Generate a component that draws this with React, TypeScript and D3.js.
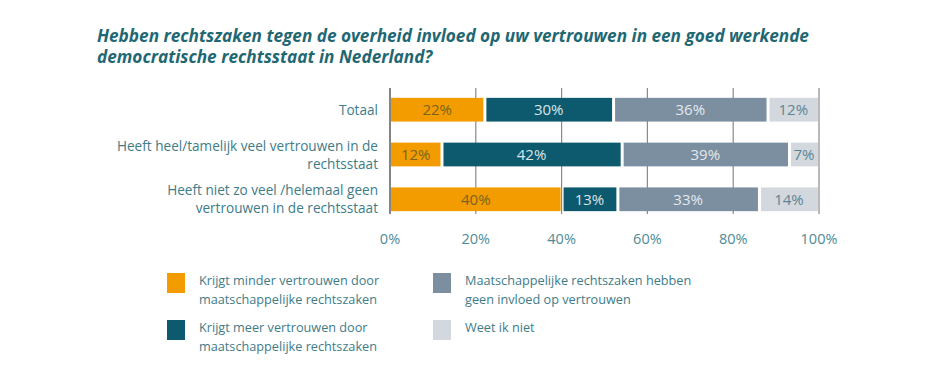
import React from "react";
import * as d3 from "d3";

const categories = [
  ["Totaal"],
  ["Heeft heel/tamelijk veel vertrouwen in de", "rechtsstaat"],
  ["Heeft niet zo veel /helemaal geen", "vertrouwen in de rechtsstaat"],
];
const seriesNames = [
  "Krijgt minder vertrouwen door maatschappelijke rechtszaken",
  "Krijgt meer vertrouwen door maatschappelijke rechtszaken",
  "Maatschappelijke rechtszaken hebben geen invloed op vertrouwen",
  "Weet ik niet",
];
const minder = [22, 12, 40];
const meer = [30, 42, 13];
const geenInvloed = [36, 39, 33];
const weetNiet = [12, 7, 14];
const ticks = [0, 20, 40, 60, 80, 100];

const legendLines = [
  ["Krijgt minder vertrouwen door", "maatschappelijke rechtszaken"],
  ["Krijgt meer vertrouwen door", "maatschappelijke rechtszaken"],
  ["Maatschappelijke rechtszaken hebben", "geen invloed op vertrouwen"],
  ["Weet ik niet"],
];

const colors = ["#F39C00", "#0D5A6E", "#7B8FA0", "#D3D8DF"];
const textColors = ["#7A6420", "#DCE4E8", "#E4E9ED", "#5B8494"];
const FONT = "'Open Sans', sans-serif";

export default function App() {
  const series = [minder, meer, geenInvloed, weetNiet];
  const x = d3.scaleLinear().domain([0, 100]).range([390, 819]);
  const y = d3.scaleBand().domain(["0", "1", "2"]).range([88, 221]).paddingInner(0.47).paddingOuter(0.22);
  const stacked = categories.map((_, i) => {
    let acc = 0;
    return series.map((s, k) => {
      const x0 = acc;
      acc += s[i];
      return { k, x0, x1: acc, v: s[i] };
    });
  });
  const legendPos = [
    { x: 167, y: 273 },
    { x: 167, y: 320 },
    { x: 433, y: 273 },
    { x: 433, y: 320 },
  ];
  return (
    <svg width={950} height={380} style={{ display: "block", position: "absolute", left: 0, top: 0 }}>
      <rect width={950} height={380} fill="#fff" />
      <g fontFamily={FONT} fontWeight={700} fontStyle="italic" fill="#1F6873" fontSize={17.2}>
        <text x={97} y={42}>Hebben rechtszaken tegen de overheid invloed op uw vertrouwen in een goed werkende</text>
        <text x={97} y={63}>democratische rechtsstaat in Nederland?</text>
      </g>
      {ticks.map((t) => (
        <g key={t}>
          <line x1={x(t)} x2={x(t)} y1={88} y2={214} stroke={t === 0 ? "#666" : "#8a8a8a"} strokeWidth={t === 0 ? 1.6 : 1.2} />
          <text x={x(t)} y={244} textAnchor="middle" fontFamily={FONT} fontSize={14.5} fill="#4F8B96">
            {t}%
          </text>
        </g>
      ))}
      {stacked.map((row, i) => {
        const by = y(String(i))!;
        const bh = y.bandwidth();
        return (
          <g key={i}>
            {row.map((seg) => (
              <g key={seg.k}>
                <rect
                  x={x(seg.x0) + (seg.k === 0 ? 1 : 2)}
                  y={by}
                  width={x(seg.x1) - x(seg.x0) - (seg.k === 0 ? 1 : 2) - 1}
                  height={bh}
                  fill={colors[seg.k]}
                />
                <text
                  x={(x(seg.x0) + x(seg.x1)) / 2}
                  y={by + bh / 2 + 5.5}
                  textAnchor="middle"
                  fontFamily={FONT}
                  fontSize={15}
                  fill={textColors[seg.k]}
                >
                  {seg.v}%
                </text>
              </g>
            ))}
            {categories[i].map((line, j) => (
              <text
                key={j}
                x={378}
                y={by + bh / 2 + 5 + (categories[i].length === 1 ? 0 : j === 0 ? -9 : 9)}
                textAnchor="end"
                fontFamily={FONT}
                fontSize={13.6}
                fill="#3E7C88"
              >
                {line}
              </text>
            ))}
          </g>
        );
      })}
      {legendPos.map((p, k) => (
        <g key={k}>
          <rect x={p.x} y={p.y} width={18} height={20} fill={colors[k]}>
            <title>{seriesNames[k]}</title>
          </rect>
          {legendLines[k].map((l, j) => (
            <text key={j} x={p.x + 32} y={p.y + 12 + j * 19} fontFamily={FONT} fontSize={12.7} fill="#3E7C88">
              {l}
            </text>
          ))}
        </g>
      ))}
    </svg>
  );
}
